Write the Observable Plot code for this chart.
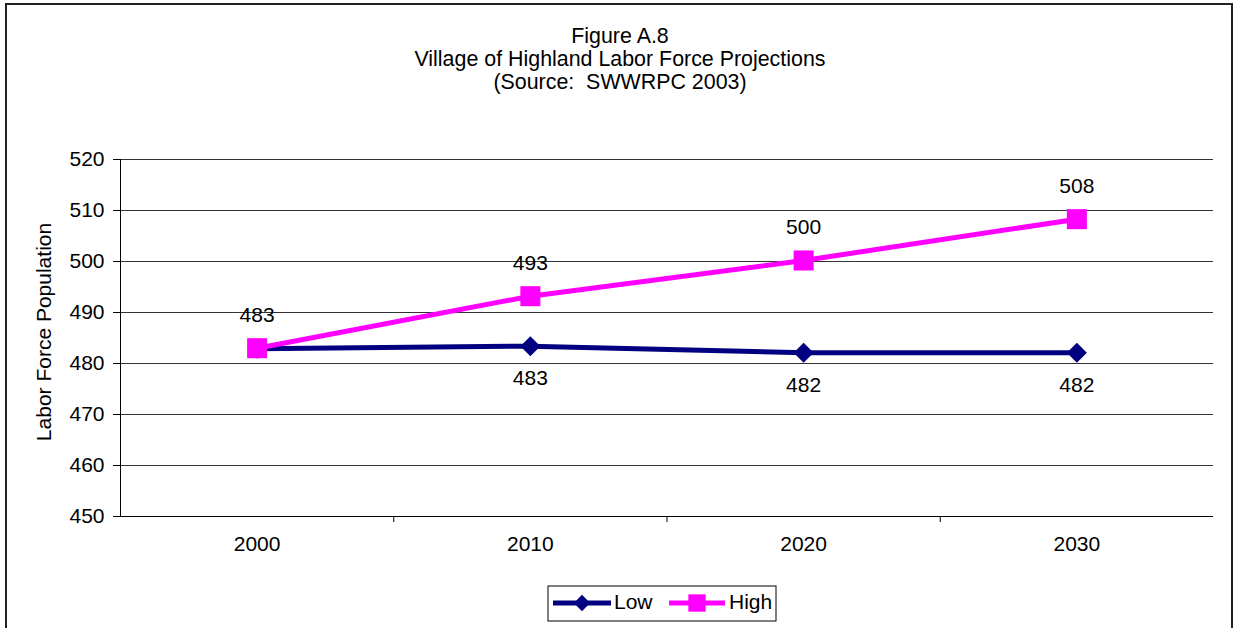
<!DOCTYPE html>
<html><head><meta charset="utf-8">
<script src="https://cdn.jsdelivr.net/npm/d3@7"></script>
<script src="https://cdn.jsdelivr.net/npm/@observablehq/plot@0.6"></script>
<style>body{margin:0;background:#fff} svg{display:block}</style>
</head><body><div id="chart"></div>
<script>
const years = [2000, 2010, 2020, 2030];
const lowValues = [482.9, 483.4, 482.1, 482.1];
const highValues = [483.0, 493.2, 500.2, 508.3];
const lowLabels = ["", "483", "482", "482"];
const highLabels = ["483", "493", "500", "508"];
const yTicks = [450, 460, 470, 480, 490, 500, 510, 520];
const xBoundaries = [2005, 2015, 2025];
const titleLines = ["Figure A.8", "Village of Highland Labor Force Projections", "(Source:  SWWRPC 2003)"];
const yLabel = "Labor Force Population";
const seriesNames = ["Low", "High"];
const seriesColors = ["#000080", "#FF00FF"];

const low = years.map((year, i) => ({year, value: lowValues[i], label: lowLabels[i]}));
const high = years.map((year, i) => ({year, value: highValues[i], label: highLabels[i]}));
const FONT = "'Liberation Sans', Arial, sans-serif";
const FS = 21;

const chart = Plot.plot({
  width: 1233, height: 628,
  marginTop: 159, marginBottom: 112, marginLeft: 120, marginRight: 20,
  style: {fontFamily: FONT, fontSize: FS + "px", color: "#000", background: "#fff", overflow: "visible"},
  x: {type: "linear", domain: [1995, 2035]},
  y: {domain: [450, 520]},
  marks: [
    Plot.gridY(yTicks, {stroke: "#333", strokeOpacity: 1, strokeWidth: 1}),
    Plot.axisY(yTicks, {tickSize: 7, tickPadding: 9, label: null, fontSize: FS, stroke: "#000"}),
    Plot.ruleX([1995], {stroke: "#000", strokeWidth: 1}),
    Plot.ruleY([450], {stroke: "#000", strokeWidth: 1}),
    Plot.axisX(xBoundaries, {tickSize: 6, tickFormat: () => "", label: null, stroke: "#000"}),
    Plot.axisX(years, {tickSize: 0, tickPadding: 20, tickFormat: d => String(d), label: null, fontSize: FS}),
    Plot.lineY(low, {x: "year", y: "value", stroke: seriesColors[0], strokeWidth: 5}),
    Plot.dot(low, {x: "year", y: "value", symbol: "diamond2", r: 9, fill: seriesColors[0], stroke: null}),
    Plot.lineY(high, {x: "year", y: "value", stroke: seriesColors[1], strokeWidth: 5}),
    Plot.dot(high, {x: "year", y: "value", symbol: "square", r: 11.3, fill: seriesColors[1], stroke: null}),
    Plot.text(high, {x: "year", y: "value", text: "label", dy: -33, fontSize: FS, fill: "#000"}),
    Plot.text(low.filter(d => d.label), {x: "year", y: "value", text: "label", dy: 32, fontSize: FS, fill: "#000"})
  ]
});

const svg = d3.select(chart);
// outer border
svg.append("rect").attr("x", 6).attr("y", 4).attr("width", 1226).attr("height", 700)
  .attr("fill", "none").attr("stroke", "#222").attr("stroke-width", 2);
// title
svg.append("g").selectAll("text").data(titleLines).join("text")
  .attr("x", 620).attr("y", (d, i) => 37 + i * 23)
  .attr("text-anchor", "middle").attr("dominant-baseline", "middle")
  .style("white-space", "pre").style("font-family", FONT).style("font-size", "21.4px")
  .attr("fill", "#000").text(d => d);
// y label
svg.append("text").attr("transform", "translate(45,332) rotate(-90)")
  .attr("text-anchor", "middle").attr("dominant-baseline", "middle")
  .style("font-family", FONT).style("font-size", FS + "px").attr("fill", "#000").text(yLabel);
// legend
const lg = svg.append("g");
lg.append("rect").attr("x", 548).attr("y", 586).attr("width", 228).attr("height", 35)
  .attr("fill", "#fff").attr("stroke", "#000").attr("stroke-width", 1);
const items = [
  {x0: 553, x1: 611, cx: 582, tx: 614, sym: d3.symbolDiamond2, size: 170},
  {x0: 669, x1: 725, cx: 697, tx: 729, sym: d3.symbolSquare, size: 300}
];
items.forEach((it, i) => {
  const ly = 603;
  lg.append("line").attr("x1", it.x0).attr("x2", it.x1).attr("y1", ly).attr("y2", ly)
    .attr("stroke", seriesColors[i]).attr("stroke-width", 5);
  lg.append("path").attr("d", d3.symbol(it.sym, it.size)()).attr("transform", `translate(${it.cx},${ly})`)
    .attr("fill", seriesColors[i]);
  lg.append("text").attr("x", it.tx).attr("y", ly).attr("text-anchor", "start").attr("dominant-baseline", "middle")
    .style("font-family", FONT).style("font-size", FS + "px").attr("fill", "#000").text(seriesNames[i]);
});

document.getElementById("chart").appendChild(chart);
</script>
</body></html>
